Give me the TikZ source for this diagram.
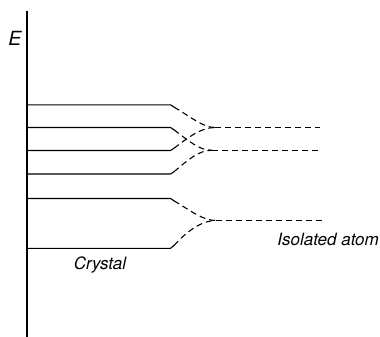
\documentclass[tikz,border=0pt]{standalone}
\usepackage{fontspec}
\newfontfamily\labfont{TeX Gyre Heros}
\begin{document}
\begin{tikzpicture}[x=1pt,y=-1pt,
  level/.style={line width=1.1pt, line cap=round},
  dashline/.style={line width=1.1pt, dash pattern=on 6pt off 4pt},
  lab/.style={inner sep=0pt, anchor=base, font=\fontsize{17}{20}\selectfont\labfont\itshape}]
\useasboundingbox (0,0) rectangle (380,337);
% axis
\coordinate (ax0) at (27,11);
\coordinate (ax1) at (27,337);
\draw[line width=1.3pt] (ax0) -- (ax1);
\node[lab, font=\fontsize{19.5}{23}\selectfont\labfont\itshape] (E) at (15,45.5) {E};
% convergence points and right ends
\coordinate (U1) at (215,127.5);
\coordinate (U2) at (212,150.3);
\coordinate (L)  at (216,220.5);
\coordinate (R1) at (320,127.5);
\coordinate (R2) at (319,150.3);
\coordinate (RL) at (322,220.5);
% crystal levels: start, end, bend
\foreach \n/\y/\d in {1/104.8/2.3, 2/127.5/2.3, 3/150.5/-2.3, 4/174/-2.3, 5/198.5/2.3, 6/248.3/-2.8}{
  \coordinate (s\n) at (27,\y);
  \coordinate (e\n) at (170.5,\y);
  \coordinate (k\n) at (174,\y+\d);
  \draw[level] (s\n) -- (e\n) -- (k\n);
}
% dashed curves
\draw[dashline] (k1) .. controls (191,117) and (203,127.5) .. (U1);
\draw[dashline] (k2) .. controls (189,141) and (199,150.3) .. (U2);
\draw[dashline] (k3) .. controls (189,137) and (201,127.5) .. (U1);
\draw[dashline] (k4) .. controls (189,159) and (199,150.3) .. (U2);
\draw[dashline] (k5) .. controls (191,211) and (203,220.5) .. (L);
\draw[dashline] (k6) .. controls (189,229) and (203,220.5) .. (L);
% atomic levels
\draw[dashline] (U1) -- (R1);
\draw[dashline] (U2) -- (R2);
\draw[dashline] (L) -- (RL);
% labels
\node[lab] (cr) at (100,269.5) {Crystal};
\node[lab, anchor=base east] (ia) at (379,245.5) {Isolated atom};
\end{tikzpicture}
\end{document}
